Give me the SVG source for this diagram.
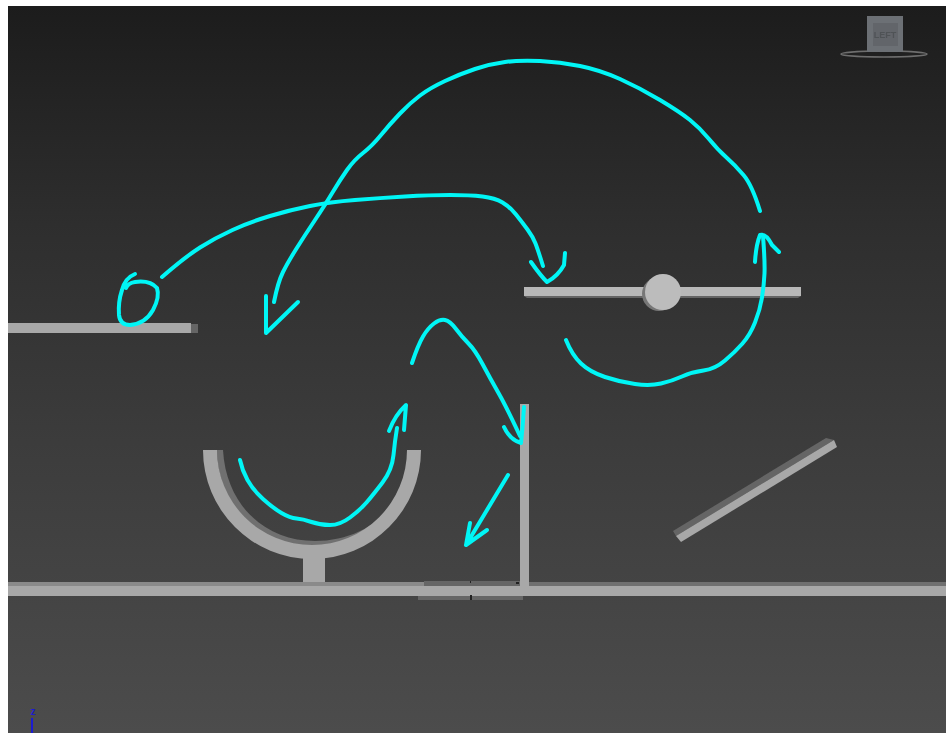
<svg xmlns="http://www.w3.org/2000/svg" width="952" height="733" viewBox="0 0 952 733">
<defs>
<linearGradient id="bg" x1="0" y1="0" x2="0" y2="1">
<stop offset="0" stop-color="#1c1c1c"/><stop offset="0.3" stop-color="#2e2e2e"/><stop offset="0.6" stop-color="#3c3c3c"/><stop offset="1" stop-color="#4c4c4c"/>
</linearGradient>
<filter id="soft" x="-5%" y="-5%" width="110%" height="110%"><feGaussianBlur stdDeviation="0.5"/></filter>
<style>
.s{fill:none;stroke:#00f6f6;stroke-width:4;stroke-linecap:round;stroke-linejoin:round}
.l{fill:#a8a8a8}.d{fill:#656565}.m{fill:#8a8a8a}
</style>
</defs>
<rect width="952" height="733" fill="#fff"/>
<rect x="8" y="6" width="938" height="727" fill="url(#bg)"/>
<g filter="url(#soft)">
<g id="viewcube">
<ellipse cx="884" cy="54" rx="43" ry="3" fill="none" stroke="#6e6e6e" stroke-width="1.6"/>
<rect x="867" y="16" width="36" height="36" fill="#6c6f74"/>
<rect x="873" y="23" width="25" height="23" fill="#62656a"/>
<text x="885" y="38" font-family="Liberation Sans, sans-serif" font-size="9" font-weight="bold" text-anchor="middle" fill="#4f5257">LEFT</text>
</g>
<g id="left-platform">
<rect x="8" y="323" width="183" height="10" class="l"/><rect x="191" y="324" width="7" height="9" class="d"/>
</g>
<g id="right-platform">
<rect x="524" y="287" width="277" height="9" fill="#b8b8b8"/>
<path d="M524 296h277l-3 2H527z" class="d"/>
<circle cx="659" cy="294" r="17" fill="#777"/>
<circle cx="663" cy="292" r="18" fill="#bcbcbc"/>
</g>
<g id="bowl">
<path d="M217 450h6C226 505 265 541 315 541 350 541 380 525 395 500 375 530 345 547 312 547 260 547 217 505 217 450z" fill="#707070"/>
<path d="M203 450H217A95 95 0 0 0 407 450H421A109 109 0 0 1 203 450z" class="l"/>
<rect x="303" y="558" width="22" height="30" class="l"/>
</g>
<g id="floor">
<rect x="8" y="582" width="416" height="5" class="m"/>
<rect x="520" y="582" width="426" height="5" fill="#707070"/>
<rect x="424" y="581" width="96" height="6" fill="#666"/>
<rect x="418" y="595" width="105" height="5" fill="#666"/>
<rect x="8" y="586" width="938" height="10" class="l"/>
<rect x="470" y="595" width="2" height="5" fill="#222"/>
<rect x="470" y="581" width="1" height="2" fill="#222"/>
<rect x="516" y="582" width="3" height="2" fill="#222"/>
</g>
<g id="wall">
<rect x="520" y="404" width="9" height="186" class="l"/>
</g>
<g id="ramp">
<path d="M673 531L826 438 834 440 676 536z" class="d"/>
<path d="M676 536L834 440 837 447 681 542z" class="l"/>
</g>
</g>
<g id="connectors" filter="url(#soft)">
<path class="s" d="M135 274Q125 278 122 290 118 302 119 315 120 325 130 325 145 324 153 310 160 297 157 288 150 280 135 282 128 283 126 288"/>
<path class="s" d="M162 277Q185 257 200 247.500Q215 238 232.500 230Q250 222 270 216Q290 210 310 206Q330 202 355 200Q380 198 405 196.500Q430 195 450 195Q470 195 482.500 196.500Q495 198 502.500 202.500Q510 207 516 214.500Q522 222 527.500 229.500Q533 237 535.500 243.500Q538 250 543 266"/>
<path class="s" d="M531 262Q540 275 547 282 558 276 564 265L565 253"/>
<path class="s" d="M760 211Q752 185 743.500 175Q735 165 726.500 157.500Q718 150 709 139Q700 128 690 120Q680 112 660 100Q640 88 620 79Q600 70 580 66Q560 62 540 61Q520 60 505 62Q490 64 475 69Q460 74 445 81Q430 88 420 95.500Q410 103 400 113.500Q390 124 381 135Q372 146 363 153Q354 160 347 170Q340 180 332.500 192.500Q325 205 315 220Q305 235 296.500 248.500Q288 262 283 272Q278 282 274 302"/>
<path class="s" d="M266 296L266 333 298 302"/>
<path class="s" d="M566 340Q572 355 581 363.500Q590 372 605 377Q620 382 635 384Q650 386 661 383.500Q672 381 682 376.500Q692 372 703.500 370.500Q715 369 725 360.500Q735 352 742.500 343.500Q750 335 755 322.500Q760 310 762 297.500Q764 285 764.500 273.500Q765 262 763 236"/>
<path class="s" d="M755 262Q756 245 760 235 766 233 772 245L779 252"/>
<path class="s" d="M412 363Q418 345 423 336.500Q428 328 434 323.500Q440 319 445 320Q450 321 456 329Q462 337 468.500 343.500Q475 350 482.500 364Q490 378 498.500 393Q507 408 520 436"/>
<path class="s" d="M504 427Q510 440 521 443 523 425 524 407"/>
<path class="s" d="M508 475L466 545M470 523L466 545 487 530"/>
<path class="s" d="M240 460Q242 470 247.500 480Q253 490 263 499Q273 508 281.500 513Q290 518 296.500 518.500Q303 519 311.500 522Q320 525 330 525Q340 525 350 517.500Q360 510 366.500 502.500Q373 495 382.500 482.500Q392 470 393.500 455Q395 440 397 428"/>
<path class="s" d="M389 431Q395 415 406 405L404 430"/>
</g>
<g id="axis">
<text x="33" y="715" font-family="Liberation Sans, sans-serif" font-size="10" font-weight="bold" text-anchor="middle" fill="#1c1cd0">z</text>
<rect x="31" y="718" width="2" height="15" fill="#1c1cd0"/>
</g>
</svg>
